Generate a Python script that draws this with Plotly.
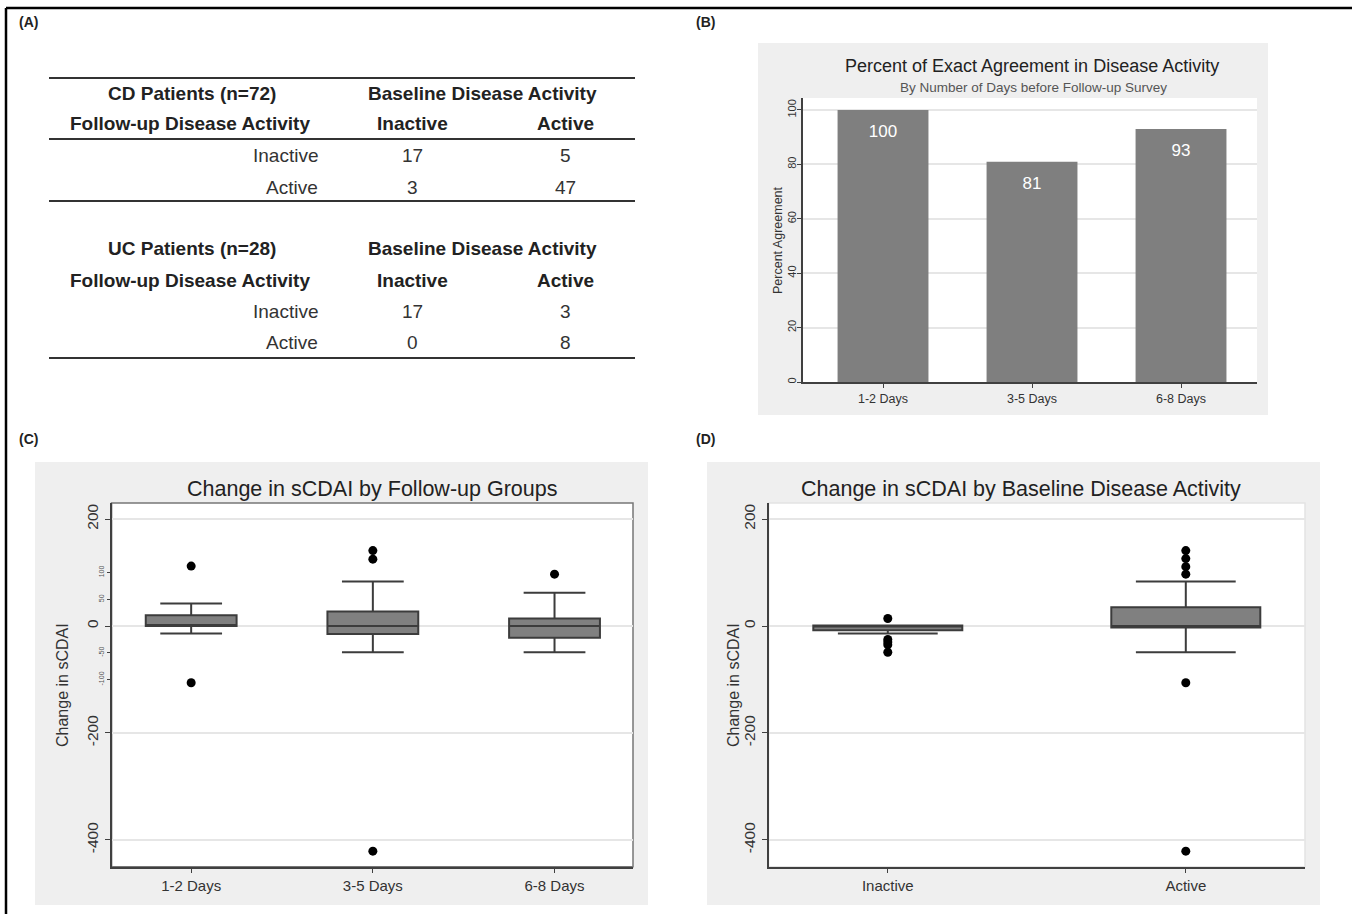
import plotly.graph_objects as go

W, H = 1352, 914


def px(x):
    return x / W


def py(y):
    return 1 - y / H


FONT = "Liberation Sans, Arial, sans-serif"

# ---------------- data ----------------
# Panel A tables
row_labels = ["Inactive", "Active"]
cd_inactive = [17, 3]
cd_active = [5, 47]
uc_inactive = [17, 0]
uc_active = [3, 8]

# Panel B
days = ["1-2 Days", "3-5 Days", "6-8 Days"]
agreement = [100, 81, 93]

# Panel C (box stats by follow-up group)
c_q1 = [0, -15, -22]
c_median = [0, 0, 0]
c_q3 = [20, 27, 14]
c_lower = [-14, -49, -49]
c_upper = [42, 83, 62]
c_out_group = [0, 0, 1, 1, 1, 2]
c_out_vals = [112, -106, 141, 125, -421, 97]

# Panel D (box stats by baseline activity)
activity = ["Inactive", "Active"]
d_q1 = [-8, -3]
d_median = [0, 0]
d_q3 = [1, 35]
d_lower = [-14, -49]
d_upper = [1, 83]
d_out_group = [0, 0, 0, 0, 0, 1, 1, 1, 1, 1, 1]
d_out_vals = [14, -25, -30, -35, -49, 141, 126, 111, 97, -106, -421]

c_major = [200, 0, -200, -400]
c_minor = [100, 50, -50, -100]
b_ticks = [0, 20, 40, 60, 80, 100]

# ---------------- layout geometry ----------------
B_dom_x = [px(803), px(1257)]
B_dom_y = [py(382), py(98)]
C_dom_x = [px(111.6), px(633)]
C_dom_y = [py(866.7), py(503)]
D_dom_x = [px(768.6), px(1305)]
D_dom_y = [py(866.7), py(503)]

BOX_FILL = "#808080"
BOX_LINE = "#3c3c3c"
AX_LINE = "#404040"
GRID = "#e6e6e6"

fig = go.Figure()

# Panel B bars
fig.add_trace(go.Bar(
    x=list(range(len(days))), y=agreement, width=0.61,
    marker=dict(color="#7f7f7f", line=dict(width=0)),
    xaxis="x", yaxis="y", showlegend=False, hoverinfo="skip"))
fig.add_trace(go.Scatter(
    x=list(range(len(days))), y=[v - 8.5 for v in agreement],
    text=[str(v) for v in agreement], mode="text",
    textfont=dict(family=FONT, size=17, color="white"),
    xaxis="x", yaxis="y", showlegend=False, hoverinfo="skip"))

# Panel C boxes
fig.add_trace(go.Box(
    x=list(range(len(days))), q1=c_q1, median=c_median, q3=c_q3,
    lowerfence=c_lower, upperfence=c_upper, orientation="v",
    width=0.5, whiskerwidth=0.68, boxpoints=False,
    fillcolor=BOX_FILL, line=dict(color=BOX_LINE, width=2),
    xaxis="x2", yaxis="y2", showlegend=False, hoverinfo="skip"))
fig.add_trace(go.Scatter(
    x=c_out_group, y=c_out_vals, mode="markers",
    marker=dict(color="black", size=9),
    xaxis="x2", yaxis="y3", showlegend=False, hoverinfo="skip"))

# Panel D boxes
fig.add_trace(go.Box(
    x=list(range(len(activity))), q1=d_q1, median=d_median, q3=d_q3,
    lowerfence=d_lower, upperfence=d_upper, orientation="v",
    width=0.5, whiskerwidth=0.67, boxpoints=False,
    fillcolor=BOX_FILL, line=dict(color=BOX_LINE, width=2),
    xaxis="x3", yaxis="y4", showlegend=False, hoverinfo="skip"))
fig.add_trace(go.Scatter(
    x=d_out_group, y=d_out_vals, mode="markers",
    marker=dict(color="black", size=9),
    xaxis="x3", yaxis="y4", showlegend=False, hoverinfo="skip"))

# ---------------- axes ----------------
common_x = dict(showgrid=False, zeroline=False, showline=True, linecolor=AX_LINE,
                linewidth=2, ticks="outside", ticklen=4, tickcolor=AX_LINE,
                fixedrange=True)
common_y = dict(zeroline=False, showline=True, linecolor=AX_LINE, linewidth=2,
                ticks="outside", tickcolor=AX_LINE, tickangle=-90,
                gridcolor=GRID, gridwidth=1.5, fixedrange=True)

fig.update_layout(
    xaxis=dict(domain=B_dom_x, anchor="y", range=[-0.537, 2.51],
               tickvals=list(range(len(days))), ticktext=days,
               tickfont=dict(family=FONT, size=12.5, color="#333"), **common_x),
    yaxis=dict(domain=B_dom_y, anchor="x", range=[0, 104.4], tickvals=b_ticks,
               ticktext=[str(v) for v in b_ticks], ticklen=4, ticklabelstandoff=-3,
               tickfont=dict(family=FONT, size=11, color="#333"), showgrid=True,
               **common_y),
    xaxis2=dict(domain=C_dom_x, anchor="y2", range=[-0.438, 2.432],
                tickvals=list(range(len(days))), ticktext=days,
                tickfont=dict(family=FONT, size=15, color="#333"), **common_x),
    yaxis2=dict(domain=C_dom_y, anchor="x2", range=[-450, 230], tickvals=c_major,
                ticktext=[str(v) for v in c_major], ticklen=5,
                tickfont=dict(family=FONT, size=15.5, color="#333"), showgrid=True,
                **common_y),
    yaxis3=dict(overlaying="y2", anchor="x2", range=[-450, 230], tickvals=c_minor,
                ticktext=[str(v) for v in c_minor],
                tickfont=dict(family=FONT, size=7, color="#555"), showgrid=False,
                zeroline=False, showline=False, ticks="outside", ticklen=4,
                tickcolor=AX_LINE, tickangle=-90, fixedrange=True, side="left"),
    xaxis3=dict(domain=D_dom_x, anchor="y4", range=[-0.4, 1.4],
                tickvals=list(range(len(activity))), ticktext=activity,
                tickfont=dict(family=FONT, size=15, color="#333"), **common_x),
    yaxis4=dict(domain=D_dom_y, anchor="x3", range=[-450, 230], tickvals=c_major,
                ticktext=[str(v) for v in c_major], ticklen=5,
                tickfont=dict(family=FONT, size=15.5, color="#333"), showgrid=True,
                **common_y),
)

# ---------------- shapes ----------------
shapes = []
# grey panel backgrounds
for (x0, y0, x1, y1) in [(758, 43, 1268, 415), (35, 462, 648, 905), (707, 462, 1320, 905)]:
    shapes.append(dict(type="rect", xref="paper", yref="paper", x0=px(x0), x1=px(x1),
                       y0=py(y1), y1=py(y0), fillcolor="#efefef", line=dict(width=0),
                       layer="below"))
# white plot areas
for dx, dy in [(B_dom_x, B_dom_y), (C_dom_x, C_dom_y), (D_dom_x, D_dom_y)]:
    shapes.append(dict(type="rect", xref="paper", yref="paper", x0=dx[0], x1=dx[1],
                       y0=dy[0], y1=dy[1], fillcolor="white", line=dict(width=0),
                       layer="below"))
# frame around panel C plot area
shapes.append(dict(type="rect", xref="paper", yref="paper", x0=C_dom_x[0], x1=C_dom_x[1],
                   y0=C_dom_y[0], y1=C_dom_y[1], fillcolor="rgba(0,0,0,0)",
                   line=dict(color="#777", width=1.5), layer="below"))
# faint frame panel D
shapes.append(dict(type="rect", xref="paper", yref="paper", x0=D_dom_x[0], x1=D_dom_x[1],
                   y0=D_dom_y[0], y1=D_dom_y[1], fillcolor="rgba(0,0,0,0)",
                   line=dict(color="#e4e4e4", width=1.5), layer="below"))
# table rules (panel A)
for yy in [78, 139, 201, 358]:
    shapes.append(dict(type="line", xref="paper", yref="paper", x0=px(49), x1=px(635),
                       y0=py(yy), y1=py(yy), line=dict(color="#333", width=2)))
# outer border (top and left)
shapes.append(dict(type="line", xref="paper", yref="paper", x0=px(6), x1=1,
                   y0=py(8), y1=py(8), line=dict(color="black", width=2.5)))
shapes.append(dict(type="line", xref="paper", yref="paper", x0=px(6), x1=px(6),
                   y0=py(8), y1=0, line=dict(color="black", width=2.5)))

# ---------------- annotations ----------------
ann = []


def add_text(text, x, y, size, bold=False, color="#222", xanchor="center", angle=0):
    t = f"<b>{text}</b>" if bold else text
    ann.append(dict(text=t, x=px(x), y=py(y), xref="paper", yref="paper",
                    xanchor=xanchor, yanchor="middle", showarrow=False,
                    textangle=angle, font=dict(family=FONT, size=size, color=color)))


# panel labels
add_text("(A)", 28, 22, 14, bold=True)
add_text("(B)", 706, 22, 14, bold=True)
add_text("(C)", 28, 439, 14, bold=True)
add_text("(D)", 706, 439, 14, bold=True)

# Table A
tables = [
    ("CD Patients (n=72)", 93, 124, [156, 187], cd_inactive, cd_active),
    ("UC Patients (n=28)", 248, 280, [311, 342], uc_inactive, uc_active),
]
for title, y_head, y_sub, row_y, inact, act in tables:
    add_text(title, 192, y_head, 19, bold=True, color="#222")
    add_text("Baseline Disease Activity", 482, y_head, 19, bold=True, color="#222")
    add_text("Follow-up Disease Activity", 190, y_sub, 19, bold=True, color="#222")
    add_text("Inactive", 413, y_sub, 19, bold=True, color="#222")
    add_text("Active", 565, y_sub, 19, bold=True, color="#222")
    for lbl, yy, a, b in zip(row_labels, row_y, inact, act):
        add_text(lbl, 320, yy, 19, color="#333", xanchor="right")
        add_text(str(a), 412, yy, 19, color="#333")
        add_text(str(b), 565, yy, 19, color="#333")

# Panel B titles
add_text("Percent of Exact Agreement in Disease Activity", 1032, 66, 18, color="#222")
add_text("By Number of Days before Follow-up Survey", 1033, 87, 13.5, color="#555")
add_text("Percent Agreement", 778, 240, 12.5, color="#333", angle=-90)

# Panel C / D titles
add_text("Change in sCDAI by Follow-up Groups", 372, 489, 21.5, color="#222")
add_text("Change in sCDAI", 62, 685, 16, color="#333", angle=-90)
add_text("Change in sCDAI by Baseline Disease Activity", 1021, 489, 21.5, color="#222")
add_text("Change in sCDAI", 733, 685, 16, color="#333", angle=-90)

fig.update_layout(
    width=W, height=H, autosize=False,
    margin=dict(l=0, r=0, t=0, b=0, pad=0),
    paper_bgcolor="white", plot_bgcolor="rgba(0,0,0,0)",
    shapes=shapes, annotations=ann, showlegend=False,
    font=dict(family=FONT),
)

fig.write_html("out.html", config={"displayModeBar": False},
               post_script="document.body.style.margin='0px';")
